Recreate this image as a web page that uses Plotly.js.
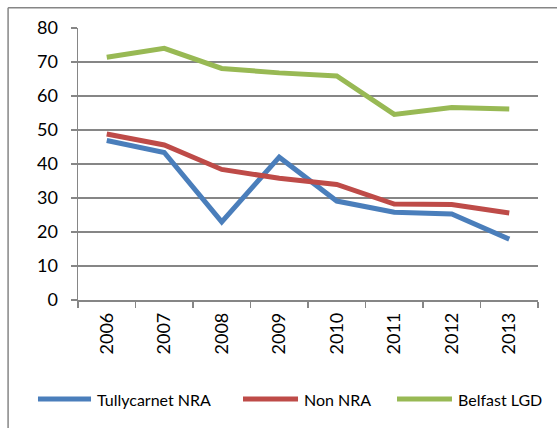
<!DOCTYPE html>
<html>
<head>
<meta charset="utf-8">
<script src="https://cdn.plot.ly/plotly-3.0.1.min.js"></script>
<style>html,body{margin:0;padding:0;background:#fff;}#chart{width:557px;height:428px;}</style>
</head>
<body>
<div id="chart"></div>
<script>
const years = ["2006","2007","2008","2009","2010","2011","2012","2013"];
const tullycarnet = [46.9, 43.4, 23.0, 42.0, 29.1, 25.8, 25.3, 17.9];
const nonNRA = [48.8, 45.6, 38.4, 35.8, 34.0, 28.2, 28.1, 25.6];
const belfast = [71.4, 74.0, 68.1, 66.8, 65.9, 54.6, 56.6, 56.2];
const seriesNames = ["Tullycarnet NRA", "Non NRA", "Belfast LGD"];
const colors = ["#4A7EBB", "#BE4B48", "#98B954"];
const font = "Lato, 'Open Sans', sans-serif";

const traces = [tullycarnet, nonNRA, belfast].map((vals, i) => ({
  type: "scatter", mode: "lines", x: years, y: vals, name: seriesNames[i],
  line: {color: colors[i], width: 5}, showlegend: false
}));

// manual legend (keys + labels) in paper coordinates
const legendKeyX = [[-0.087, 0.0283], [0.3587, 0.4783], [0.6935, 0.813]];
const legendY = -0.364;
const legendShapes = legendKeyX.map((k, i) => ({
  type: "line", xref: "paper", yref: "paper", x0: k[0], x1: k[1], y0: legendY, y1: legendY,
  line: {color: colors[i], width: 5}
}));
const legendAnn = legendKeyX.map((k, i) => ({
  xref: "paper", yref: "paper", x: k[1] + 0.009, y: legendY, xanchor: "left", yanchor: "middle",
  text: seriesNames[i], showarrow: false, font: {family: font, size: 16, color: "#000"}
}));

const layout = {
  width: 557, height: 428,
  margin: {l: 78, r: 19, t: 28, b: 128},
  paper_bgcolor: "#fff", plot_bgcolor: "#fff",
  font: {family: font, color: "#000", size: 16},
  xaxis: {type: "category", range: [-0.5, 7.5], showgrid: false, showline: true,
    linecolor: "#868686", linewidth: 1.5, ticks: "outside", tickson: "boundaries",
    ticklen: 6, tickcolor: "#868686", tickwidth: 1.5, tickangle: -90,
    ticklabelstandoff: 4,
    tickfont: {family: font, size: 18}, fixedrange: true},
  yaxis: {range: [0, 80], dtick: 10, showgrid: true, gridcolor: "#868686", gridwidth: 1.5,
    showline: true, linecolor: "#868686", linewidth: 1.5, ticks: "outside", ticklen: 6,
    tickcolor: "#868686", tickwidth: 1.5, zeroline: false, ticklabelstandoff: 9,
    tickfont: {family: font, size: 18}, fixedrange: true},
  showlegend: false,
  annotations: legendAnn,
  shapes: [
    {type: "line", xref: "paper", yref: "paper", x0: -0.152, x1: 1.1, y0: 1.074, y1: 1.074,
      line: {color: "#868686", width: 1.5}},
    {type: "line", xref: "paper", yref: "paper", x0: -0.152, x1: -0.152, y0: 1.074, y1: -0.5,
      line: {color: "#868686", width: 1.5}}
  ].concat(legendShapes)
};
Plotly.newPlot("chart", traces, layout, {displayModeBar: false, staticPlot: true});
</script>
</body>
</html>
